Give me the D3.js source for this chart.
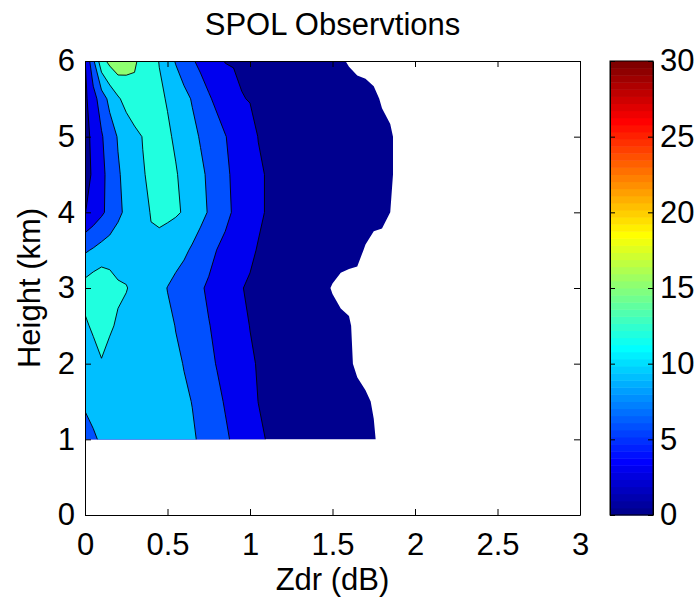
<!DOCTYPE html>
<html><head><meta charset="utf-8">
<script src="https://cdn.jsdelivr.net/npm/d3@7"></script>
<style>
body{margin:0;background:#fff}
svg{display:block}
text{font-family:"Liberation Sans",Arial,Helvetica,sans-serif;fill:#000}
</style>
</head><body>
<svg id="chart" width="700" height="601"></svg>
<script>
// ---------------- data ----------------
const zdrStart = 0, zdrStep = 0.05;            // Zdr bins 0.00 .. 2.00 dB
const heights = [1.0, 1.5, 2.0, 2.5, 3.0, 3.5, 4.0, 4.5, 5.0, 5.5, 6.0];
// frequency (%) per Zdr bin at each height
const h1_0 = [7.0, 8.6, 9.4, 9.7, 9.9, 10.0, 10.0, 9.9, 9.8, 9.7, 9.6, 9.45, 9.3, 9.15, 8.84, 8.03, 7.2, 6.4, 5.63, 4.9, 4.17, 3.44, 2.93, 2.74, 2.55, 2.37, 2.18, 1.99, 1.81, 1.62, 1.43, 1.25, 1.06, 0.87, 0.69, 0.52, 0, 0, 0, 0, 0];
const h1_5 = [9.7, 10.0, 10.3, 10.4, 10.4, 10.3, 10.1, 10.0, 9.9, 9.75, 9.6, 9.4, 9.2, 8.97, 8.2, 7.4, 6.57, 5.8, 5.1, 4.4, 3.7, 2.98, 2.81, 2.63, 2.44, 2.25, 2.07, 1.88, 1.69, 1.51, 1.32, 1.13, 0.95, 0.76, 0.57, 0.3, 0, 0, 0, 0, 0];
const h2_0 = [10.5, 10.7, 11.9, 11.2, 11.0, 10.7, 10.5, 10.2, 10.0, 9.7, 9.5, 9.25, 8.95, 8.2, 7.4, 6.6, 5.87, 5.2, 4.57, 3.9, 3.26, 2.87, 2.67, 2.46, 2.25, 2.04, 1.83, 1.62, 1.42, 1.21, 1.0, 0.79, 0.58, 0.2, 0, 0, 0, 0, 0, 0, 0];
const h2_5 = [11.5, 12.5, 12.6, 12.3, 11.7, 11.3, 10.9, 10.5, 10.2, 9.8, 9.4, 8.95, 8.3, 7.6, 6.9, 6.1, 5.5, 4.8, 4.2, 3.5, 2.96, 2.76, 2.56, 2.35, 2.15, 1.95, 1.75, 1.55, 1.35, 1.15, 0.94, 0.74, 0.54, 0, 0, 0, 0, 0, 0, 0, 0];
const h3_0 = [13.2, 14.0, 14.5, 13.5, 12.35, 12.1, 11.5, 10.9, 10.3, 9.6, 8.95, 8.3, 7.6, 7.0, 6.3, 5.6, 5.0, 4.35, 3.7, 3.05, 2.8, 2.55, 2.3, 2.1, 1.85, 1.6, 1.4, 1.15, 0.9, 0.7, 0.3, 0, 0, 0, 0, 0, 0, 0, 0, 0, 0];
const h3_5 = [8.6, 9.3, 10.0, 10.4, 10.7, 11.0, 11.2, 11.4, 11.7, 11.2, 10.3, 10.0, 9.5, 8.65, 7.75, 6.9, 5.95, 5.3, 4.65, 3.95, 3.3, 2.89, 2.7, 2.5, 2.3, 2.1, 1.9, 1.75, 1.55, 1.35, 1.15, 1.0, 0.8, 0.7, 0.3, 0, 0, 0, 0, 0, 0];
const h4_0 = [2.9, 4.2, 5.5, 6.9, 8.4, 9.55, 10.45, 11.35, 12.1, 12.55, 12.65, 12.3, 11.8, 10.8, 9.8, 8.8, 7.75, 6.7, 5.75, 4.95, 4.1, 3.3, 2.9, 2.74, 2.58, 2.41, 2.25, 2.09, 1.93, 1.77, 1.6, 1.44, 1.28, 1.12, 0.96, 0.8, 0.7, 0.4, 0, 0, 0];
const h4_5 = [2.0, 3.4, 5.25, 7.0, 8.7, 9.8, 10.8, 11.8, 12.5, 13.2, 13.0, 12.2, 11.3, 10.4, 9.5, 8.6, 7.55, 6.5, 5.6, 4.85, 4.1, 3.3, 2.9, 2.75, 2.6, 2.4, 2.3, 2.1, 1.95, 1.8, 1.6, 1.5, 1.3, 1.15, 1.0, 0.85, 0.7, 0.6, 0, 0, 0];
const h5_0 = [2.2, 3.6, 5.7, 7.6, 9.2, 10.2, 11.1, 12.1, 13.0, 13.2, 12.4, 11.6, 10.6, 9.7, 8.8, 7.9, 7.0, 6.1, 5.3, 4.5, 3.8, 2.95, 2.85, 2.7, 2.5, 2.4, 2.2, 2.1, 1.9, 1.8, 1.6, 1.5, 1.3, 1.15, 1.0, 0.85, 0.7, 0.6, 0, 0, 0];
const h5_5 = [2.4, 4.8, 7.5, 9.8, 11.6, 13.0, 14.3, 13.7, 13.1, 12.5, 11.8, 10.8, 9.8, 8.8, 7.5, 6.3, 5.4, 4.6, 3.9, 3.1, 2.9, 2.7, 2.6, 2.4, 2.3, 2.1, 2.0, 1.8, 1.7, 1.55, 1.45, 1.35, 1.25, 1.05, 0.85, 0.6, 0.3, 0, 0, 0, 0];
const h6_0 = [2.8, 8.4, 13.9, 15.8, 17.0, 16.2, 15.3, 14.3, 13.2, 11.9, 10.3, 8.8, 7.5, 6.3, 5.3, 4.5, 3.6, 2.9, 2.8, 2.6, 2.4, 2.2, 2.1, 1.9, 1.7, 1.6, 1.4, 1.2, 1.0, 0.9, 0.7, 0.6, 0.25, 0, 0, 0, 0, 0, 0, 0, 0];
const rows = [h1_0, h1_5, h2_0, h2_5, h3_0, h3_5, h4_0, h4_5, h5_0, h5_5, h6_0];

const levels = [0.4, 3, 6, 9, 12, 15];
const xTicks = [0, 0.5, 1, 1.5, 2, 2.5, 3];
const yTicks = [0, 1, 2, 3, 4, 5, 6];
const cbTicks = [0, 5, 10, 15, 20, 25, 30];
const cMin = 0, cMax = 30;

// ---------------- helpers ----------------
function jet64(k) { // MATLAB jet(64), k = 1..64
  const m = 16, u = [];
  for (let i = 1; i <= m; i++) u.push(i / m);
  for (let i = 0; i < m - 1; i++) u.push(1);
  for (let i = m; i >= 1; i--) u.push(i / m);
  const val = p => (p >= 1 && p <= u.length) ? u[p - 1] : 0;
  const g0 = 8;
  const r = val(k - g0 - m), g = val(k - g0), b = val(k - g0 + m);
  return d3.rgb(Math.round(r * 255), Math.round(g * 255), Math.round(b * 255)).formatHex();
}
function colorOf(v) {
  const k = Math.min(64, Math.floor((v - cMin) / (cMax - cMin) * 64) + 1);
  return jet64(Math.max(1, k));
}

// ---------------- layout ----------------
const svg = d3.select("#chart");
const L = 85, R = 580, T = 61, B = 515;
const x = d3.scaleLinear().domain([0, 3]).range([L, R]);
const y = d3.scaleLinear().domain([0, 6]).range([B, T]);
const FS = 31;

svg.append("defs").append("clipPath").attr("id", "dataClip")
  .append("rect")
  .attr("x", x(0)).attr("y", y(heights[heights.length - 1]))
  .attr("width", x(3) - x(0)).attr("height", y(heights[0]) - y(heights[heights.length - 1]));

// ---------------- contours ----------------
const nx = rows[0].length, ny = rows.length;
const values = [].concat(...rows);
const dy = heights[1] - heights[0];
const contours = d3.contours().size([nx, ny]).thresholds(levels)(values);
const proj = d3.geoTransform({
  point: function (gx, gy) {
    this.stream.point(x(zdrStart + (gx - 0.5) * zdrStep), y(heights[0] + (gy - 0.5) * dy));
  }
});
const path = d3.geoPath(proj);
const g = svg.append("g").attr("clip-path", "url(#dataClip)");
g.selectAll("path").data(contours).join("path")
  .attr("d", path)
  .attr("fill", d => colorOf(d.value))
  .attr("stroke", (d, i) => i === 0 ? "none" : "#000")
  .attr("stroke-width", 0.9)
  .attr("stroke-linejoin", "round");

// ---------------- axes ----------------
svg.append("g").attr("transform", `translate(0,${B})`)
  .call(d3.axisBottom(x).tickValues(xTicks).tickSize(-6).tickSizeOuter(0).tickPadding(18).tickFormat(d3.format("")));
svg.append("g").attr("transform", `translate(${L},0)`)
  .call(d3.axisLeft(y).tickValues(yTicks).tickSize(-6).tickSizeOuter(0).tickPadding(10).tickFormat(d3.format("")));
svg.append("g").attr("transform", `translate(0,${T})`)
  .call(d3.axisTop(x).tickValues(xTicks).tickSize(-6).tickSizeOuter(0).tickFormat(""));
svg.append("g").attr("transform", `translate(${R},0)`)
  .call(d3.axisRight(y).tickValues(yTicks).tickSize(-6).tickSizeOuter(0).tickFormat(""));

// ---------------- titles ----------------
svg.append("text").attr("x", (L + R) / 2).attr("y", 35).attr("text-anchor", "middle")
  .attr("font-size", FS).text("SPOL Observtions");
svg.append("text").attr("x", (L + R) / 2).attr("y", 590).attr("text-anchor", "middle")
  .attr("font-size", FS).text("Zdr (dB)");
svg.append("text").attr("transform", `translate(40,${(T + B) / 2}) rotate(-90)`).attr("text-anchor", "middle")
  .attr("font-size", FS).text("Height (km)");

// ---------------- colorbar ----------------
const cbL = 610, cbR = 653;
const cb = d3.scaleLinear().domain([cMin, cMax]).range([B, T]);
const bands = d3.range(64);
svg.append("g").selectAll("rect").data(bands).join("rect")
  .attr("x", cbL).attr("width", cbR - cbL)
  .attr("y", k => cb(cMin + (k + 1) * (cMax - cMin) / 64))
  .attr("height", k => cb(cMin + k * (cMax - cMin) / 64) - cb(cMin + (k + 1) * (cMax - cMin) / 64) + 0.5)
  .attr("fill", k => jet64(k + 1));
svg.append("g").attr("transform", `translate(${cbR},0)`)
  .call(d3.axisRight(cb).tickValues(cbTicks).tickSize(-5).tickSizeOuter(0).tickPadding(7));
svg.append("g").attr("transform", `translate(${cbL},0)`)
  .call(d3.axisLeft(cb).tickValues(cbTicks).tickSize(-5).tickSizeOuter(0).tickFormat(""));
svg.append("rect").attr("x", cbL).attr("y", T).attr("width", cbR - cbL).attr("height", B - T)
  .attr("fill", "none").attr("stroke", "#000");

svg.selectAll(".tick text").attr("font-size", FS).attr("font-family", "'Liberation Sans', Arial, sans-serif");
svg.selectAll(".domain").attr("stroke", "#000");
</script>
</body></html>
